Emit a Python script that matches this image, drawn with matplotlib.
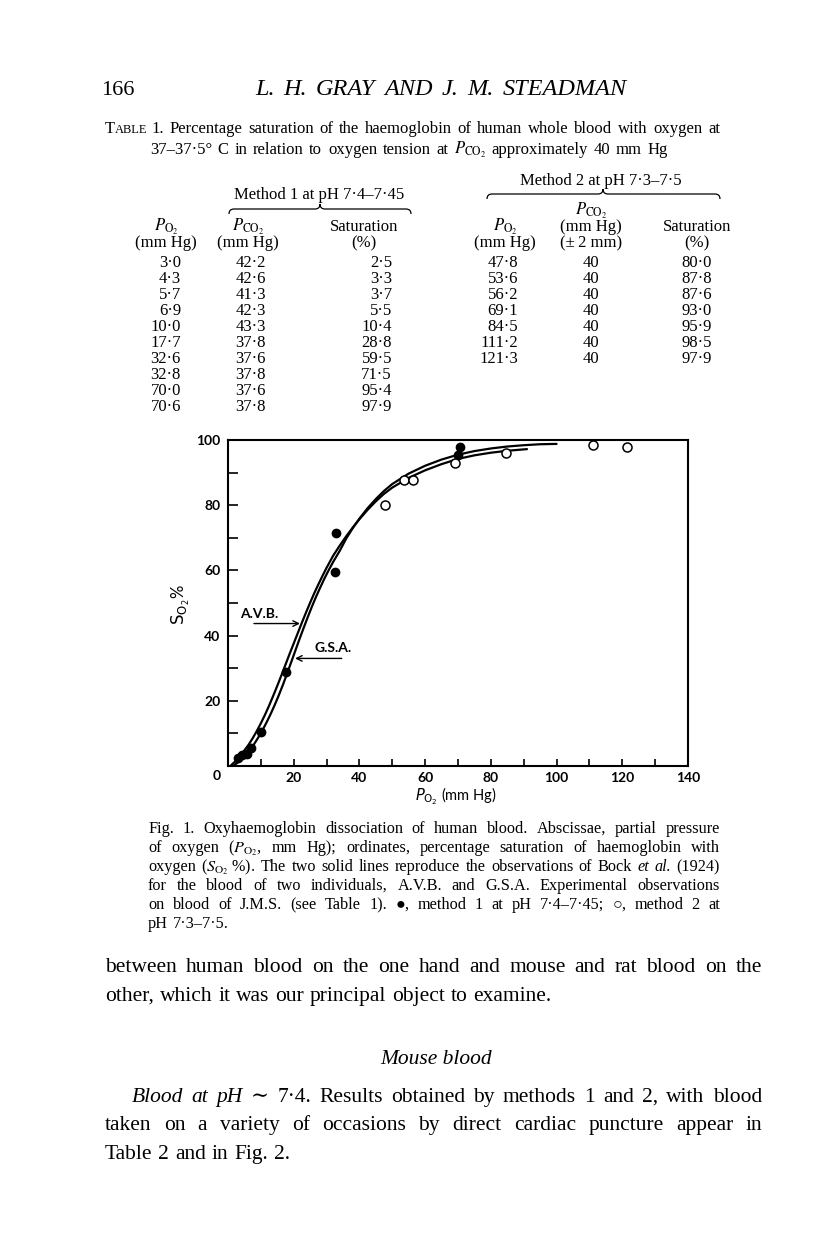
import matplotlib
matplotlib.use('Agg')
import matplotlib.pyplot as plt
from matplotlib.path import Path
from matplotlib.patches import PathPatch

W, H = 816, 1249
SERIF = ['Liberation Serif', 'DejaVu Serif', 'DejaVu Sans']
SANS = ['Lato', 'DejaVu Sans']

# Table 1, method 1 (pH 7.4-7.45)
m1_po2 = [3.0, 4.3, 5.7, 6.9, 10.0, 17.7, 32.6, 32.8, 70.0, 70.6]
m1_pco2 = [42.2, 42.6, 41.3, 42.3, 43.3, 37.8, 37.6, 37.8, 37.6, 37.8]
m1_sat = [2.5, 3.3, 3.7, 5.5, 10.4, 28.8, 59.5, 71.5, 95.4, 97.9]

# Table 1, method 2 (pH 7.3-7.5)
m2_po2 = [47.8, 53.6, 56.2, 69.1, 84.5, 111.2, 121.3]
m2_pco2 = [40, 40, 40, 40, 40, 40, 40]
m2_sat = [80.0, 87.8, 87.6, 93.0, 95.9, 98.5, 97.9]

# Bock et al. (1924) curves
avb_po2 = [1, 2, 3, 4, 5, 6.25, 7.5, 8.75, 10, 11.25, 12.5, 13.75, 15, 16.25,
           17.5, 18.75, 20, 21.25, 22.5, 23.75, 25, 26.25, 27.5, 28.75, 30, 32,
           34, 36, 38, 40, 42.5, 45, 47.5, 50, 55, 60, 65, 70, 75, 80, 85, 91]
avb_sat = [0.3, 1.2, 2.3, 3.5, 4.8, 6.5, 8.5, 10.7, 13.1, 15.7, 18.5, 21.5, 24.6, 27.8,
           31.1, 34.4, 37.6, 40.8, 44.0, 47.1, 50.1, 53.0, 55.7, 58.3, 60.8, 64.5,
           67.6, 70.5, 73.2, 75.7, 78.6, 81.2, 83.5, 85.4, 88.4, 90.7, 92.6, 94.2,
           95.3, 96.1, 96.7, 97.2]
gsa_po2 = [1.5, 2.5, 3.5, 4.5, 5.5, 6.75, 8, 9.25, 10.5, 11.75, 13, 14.25, 15.5,
           16.75, 18, 19.25, 20.5, 21.75, 23, 24.25, 25.5, 26.75, 28, 29.25, 30.5,
           32, 34, 36, 38, 40, 42.5, 45, 47.5, 50, 55, 60, 65, 70, 75, 80, 85, 90,
           95, 100]
gsa_sat = [0.0, 0.7, 1.5, 2.5, 3.5, 5.0, 6.8, 8.8, 11.0, 13.4, 16.0, 18.8, 21.8,
           25.0, 28.4, 31.9, 35.4, 38.9, 42.3, 45.6, 48.8, 51.8, 54.6, 57.3, 59.8,
           62.6, 66.0, 69.8, 73.0, 75.9, 79.1, 81.9, 84.4, 86.5, 89.7, 92.1, 94.0,
           95.5, 96.6, 97.4, 98.0, 98.4, 98.7, 98.8]

x_ticks = list(range(0, 141, 10))
x_labels = ['' if v % 20 or v == 0 else str(v) for v in x_ticks]
y_ticks = list(range(0, 101, 10))
y_labels = ['' if v % 20 or v == 0 else str(v) for v in y_ticks]


def dot(v):
    return ('%.1f' % v).replace('.', '\u00b7')


fig = plt.figure(figsize=(W / 100, H / 100), dpi=100)
page = fig.add_axes([0, 0, 1, 1])
page.set_xlim(0, W)
page.set_ylim(H, 0)
page.axis('off')
renderer = fig.canvas.get_renderer()


def txt(x, y, s, size, ha='left', style='normal', family=SERIF, **kw):
    return page.text(x, y, s, fontsize=size, ha=ha, va='baseline', fontstyle=style,
                     family=family, math_fontfamily='stix', **kw)


def justify(y, words, x0, x1, size, style='normal'):
    # words: str or (str, style)
    arts = []
    for w in words:
        s, st = (w, style) if isinstance(w, str) else w
        arts.append(txt(0, y, s, size, style=st))
    widths = [a.get_window_extent(renderer).width for a in arts]
    if x1 is None or len(arts) == 1:
        gap = 0.27 * size * 100 / 72
    else:
        gap = (x1 - x0 - sum(widths)) / (len(arts) - 1)
    x = x0
    for a, w in zip(arts, widths):
        a.set_x(x)
        x += w + gap
    return x


def brace(x0, x1, xm, y, h=5):
    verts = [(x0, y + h), (x0, y), (x0 + h, y), (xm - h, y), (xm, y), (xm, y - h),
             (xm, y), (xm + h, y), (x1 - h, y), (x1, y), (x1, y + h)]
    codes = [Path.MOVETO, Path.CURVE3, Path.CURVE3, Path.LINETO, Path.CURVE3, Path.CURVE3,
             Path.CURVE3, Path.CURVE3, Path.LINETO, Path.CURVE3, Path.CURVE3]
    page.add_patch(PathPatch(Path(verts, codes), fill=False, lw=0.9, color='black'))


# running head
txt(101, 95, '166', 16)
justify(95, ['L.', 'H.', 'GRAY', 'AND', 'J.', 'M.', 'STEADMAN'], 255, 627, 17.5, style='italic')

# table caption
CS = 12
t1 = txt(105, 133, 'T', CS)
t2 = txt(105 + t1.get_window_extent(renderer).width, 133, 'ABLE', 9)
xs = 105 + t1.get_window_extent(renderer).width + t2.get_window_extent(renderer).width + 4
justify(133, '1.  Percentage saturation of the haemoglobin of human whole blood with oxygen at'.split(),
        xs, 720, CS)
justify(154, '37\u201337\u00b75\u00b0 C in relation to oxygen tension at $P_{\\mathrm{CO_2}}$ approximately 40 mm Hg'.split(),
        150, 668, CS)

# table headings
TS = 12
txt(601, 185, 'Method 2 at pH 7\u00b73\u20137\u00b75', TS, ha='center')
brace(487, 720, 603, 194)
txt(319, 199, 'Method 1 at pH 7\u00b74\u20137\u00b745', TS, ha='center')
brace(229, 411, 320, 209)

for x, lines in [(166, ['$P_{\\mathrm{O_2}}$', '(mm Hg)']),
                 (248, ['$P_{\\mathrm{CO_2}}$', '(mm Hg)']),
                 (364, ['Saturation', '(%)']),
                 (505, ['$P_{\\mathrm{O_2}}$', '(mm Hg)']),
                 (697, ['Saturation', '(%)'])]:
    txt(x, 231, lines[0], TS, ha='center')
    txt(x, 247, lines[1], TS, ha='center')
txt(591, 215, '$P_{\\mathrm{CO_2}}$', TS, ha='center')
txt(591, 231, '(mm Hg)', TS, ha='center')
txt(591, 247, '(\u00b1\u20092 mm)', TS, ha='center')

for i in range(len(m1_po2)):
    y = 267 + 16 * i
    txt(181, y, dot(m1_po2[i]), TS, ha='right')
    txt(266, y, dot(m1_pco2[i]), TS, ha='right')
    txt(392, y, dot(m1_sat[i]), TS, ha='right')
for i in range(len(m2_po2)):
    y = 267 + 16 * i
    txt(518, y, dot(m2_po2[i]), TS, ha='right')
    txt(591, y, str(m2_pco2[i]), TS, ha='center')
    txt(712, y, dot(m2_sat[i]), TS, ha='right')

# the chart
ax = fig.add_axes([228 / W, 1 - 766 / H, 460 / W, 326 / H])
ax.plot(avb_po2, avb_sat, color='black', lw=1.6, solid_capstyle='round')
ax.plot(gsa_po2, gsa_sat, color='black', lw=1.6, solid_capstyle='round')
ax.plot(m1_po2, m1_sat, 'o', ms=6, mfc='black', mec='black', clip_on=False, zorder=5)
ax.plot(m2_po2, m2_sat, 'o', ms=6.5, mfc='white', mec='black', mew=1.1, clip_on=False, zorder=5)
ax.set_xlim(0, 140)
ax.set_ylim(0, 100)
for sp in ax.spines.values():
    sp.set_linewidth(1.5)
ax.set_xticks(x_ticks)
ax.set_xticklabels(x_labels, family=SANS, fontsize=10, fontweight='bold')
ax.set_yticks(y_ticks)
ax.set_yticklabels(y_labels, family=SANS, fontsize=10, fontweight='bold')
ax.tick_params(axis='x', direction='in', length=5, width=1.2, pad=4)
ax.tick_params(axis='y', direction='in', length=7.5, width=1.2, pad=5.5)

ax.annotate('', xy=(21.9, 43.7), xytext=(7.9, 43.7),
            arrowprops=dict(arrowstyle='->', lw=1, color='black', shrinkA=0, shrinkB=0))
ax.text(3.7, 44.9, 'A.V.B.', family=SANS, fontsize=10, fontweight='bold', va='bottom')
ax.annotate('', xy=(20.4, 33.0), xytext=(34.6, 33.0),
            arrowprops=dict(arrowstyle='->', lw=1, color='black', shrinkA=0, shrinkB=0))
ax.text(26.2, 34.4, 'G.S.A.', family=SANS, fontsize=10, fontweight='bold', va='bottom')

page.text(217, 776, '0', family=SANS, fontsize=10, fontweight='bold', ha='center', va='center')
page.text(181, 605, '$\\mathsf{S_{O_2}}$%', family=SANS, fontsize=12, rotation=90,
          ha='center', va='center', math_fontfamily='dejavusans')
page.text(456, 796, '$P_{\\mathsf{O_2}}$ (mm Hg)', family=SANS, fontsize=10.5, ha='center',
          va='center', math_fontfamily='dejavusans')

# figure caption
cap = [
    'Fig. 1.  Oxyhaemoglobin dissociation of human blood.  Abscissae, partial pressure'.split(),
    'of oxygen ($P_{\\mathrm{O_2}}$, mm Hg); ordinates, percentage saturation of haemoglobin with'.split(),
    ['oxygen', '($S_{\\mathrm{O_2}}$\u2009%).', 'The', 'two', 'solid', 'lines', 'reproduce', 'the',
     'observations', 'of', 'Bock', ('et', 'italic'), ('al.', 'italic'), '(1924)'],
    'for the blood of two individuals, A.V.B. and G.S.A.  Experimental observations'.split(),
    'on blood of J.M.S. (see Table 1).  \u25cf, method 1 at pH 7\u00b74\u20137\u00b745; \u25cb, method 2 at'.split(),
    'pH 7\u00b73\u20137\u00b75.'.split(),
]
for i, words in enumerate(cap):
    justify(833 + 19 * i, words, 148, 720 if i < len(cap) - 1 else None, 11.7)

# body text
BS = 15.5
justify(972, 'between human blood on the one hand and mouse and rat blood on the'.split(), 105, 762, BS)
justify(1001, 'other, which it was our principal object to examine.'.split(), 105, None, BS)
txt(436, 1064, 'Mouse blood', BS, ha='center', style='italic')
justify(1102, [('Blood', 'italic'), ('at', 'italic'), ('pH', 'italic'), '\u223c', '7\u00b74.', 'Results',
               'obtained', 'by', 'methods', '1', 'and', '2,', 'with', 'blood'], 132, 762, BS)
justify(1130, 'taken on a variety of occasions by direct cardiac puncture appear in'.split(), 105, 762, BS)
justify(1159, 'Table 2 and in Fig. 2.'.split(), 105, None, BS)

fig.savefig('out.png', dpi=100)
